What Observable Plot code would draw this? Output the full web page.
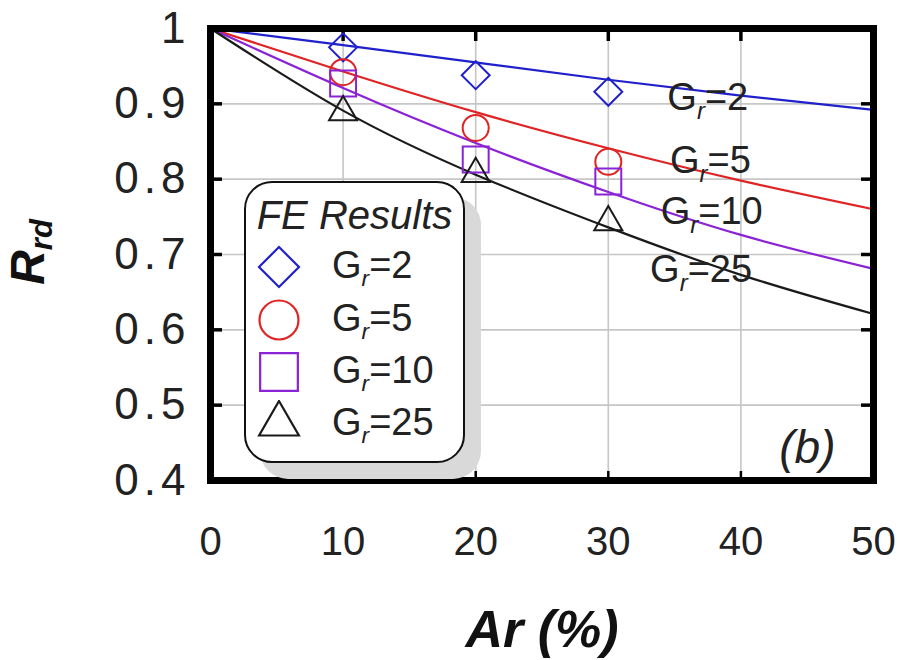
<!DOCTYPE html>
<html>
<head>
<meta charset="utf-8">
<script src="https://cdn.jsdelivr.net/npm/d3@7"></script>
<script src="https://cdn.jsdelivr.net/npm/@observablehq/plot@0.6"></script>
<style>
  html, body { margin: 0; padding: 0; background: #fff; }
  #chart { position: relative; width: 901px; height: 660px; font-family: "Liberation Sans", Arial, sans-serif; }
  #legend {
    position: absolute; left: 244px; top: 181px; width: 217px; height: 278px;
    border: 2px solid #111; border-radius: 28px; background: #fff;
    box-shadow: 16px 16px 0 #d9d9d9; box-sizing: content-box;
  }
  #legend .title { position: absolute; left: 0; width: 100%; top: 10px; text-align: center;
    font-style: italic; font-size: 40px; line-height: 44px; color: #222; }
  #legend .row { position: absolute; left: 0; width: 100%; height: 48px; }
  #legend .row svg { position: absolute; left: 9px; top: 2px; }
  #legend .row span { position: absolute; left: 86px; top: 0; font-size: 38px; line-height: 48px; color: #222; }
  #legend sub { font-size: 0.6em; font-style: italic; vertical-align: -0.35em; line-height: 0; }
</style>
</head>
<body>
<div id="chart"></div>
<script>
// ---- data ----
const arPct = [0, 10, 20, 30, 40, 50];               // A_r (%) at which curves are read
const grValues = [2, 5, 10, 25];                      // G_r series
const seriesColors = ["#2020cc", "#e02424", "#8a22d6", "#1a1a1a"];
const seriesSymbols = ["diamond2", "circle", "square2", "triangle2"];
const curveGr2  = [1, 0.978, 0.955, 0.932, 0.911, 0.892];
const curveGr5  = [1, 0.943, 0.889, 0.841, 0.798, 0.760];
const curveGr10 = [1, 0.921, 0.848, 0.783, 0.726, 0.681];
const curveGr25 = [1, 0.891, 0.806, 0.736, 0.673, 0.621];
const feAr   = [10, 20, 30];                          // FE results positions
const feGr2  = [0.975, 0.938, 0.916];
const feGr5  = [0.942, 0.868, 0.823];
const feGr10 = [0.927, 0.826, 0.797];
const feGr25 = [0.889, 0.807, 0.743];
const labelAr = [37.5, 37.7, 37.8, 37.0];             // curve label anchors
const labelRd = [0.908, 0.825, 0.756, 0.679];
const xTicks = [0, 10, 20, 30, 40, 50];
const yTicks = [0.4, 0.5, 0.6, 0.7, 0.8, 0.9, 1];

// ---- build tables ----
const curves = [curveGr2, curveGr5, curveGr10, curveGr25];
const fes = [feGr2, feGr5, feGr10, feGr25];
const curveRows = [];
grValues.forEach((g, i) => arPct.forEach((a, j) => curveRows.push({gr: g, i, ar: a, rd: curves[i][j]})));
const feRows = [];
grValues.forEach((g, i) => feAr.forEach((a, j) => feRows.push({gr: g, i, ar: a, rd: fes[i][j]})));
const labelRows = grValues.map((g, i) => ({gr: g, i, ar: labelAr[i], rd: labelRd[i]}));

const symbolSizes = {"diamond2": 12.6, "circle": 13, "square2": 16.5, "triangle2": 13.4};
const W = 901, H = 660, ML = 210, MR = 28, MT = 28, MB = 180;
const plotW = W - ML - MR, plotH = H - MT - MB;
const innerX = xTicks.slice(1, -1), innerY = yTicks.slice(1, -1);

const marks = [
  Plot.gridX(xTicks, {stroke: "#c6c6c6", strokeOpacity: 1, strokeWidth: 1.6}),
  Plot.gridY(yTicks, {stroke: "#c6c6c6", strokeOpacity: 1, strokeWidth: 1.6}),
  Plot.axisX(xTicks, {anchor: "bottom", tickSize: 0, tickPadding: 46, label: null, fontSize: 40, tickFormat: d => String(d)}),
  Plot.axisY(yTicks, {anchor: "left", tickSize: 0, tickPadding: 20, label: null, fontSize: 44, tickFormat: d => String(d)}),
  // inward tick marks on all four sides
  Plot.tickX(innerX, {x: d => d, stroke: "#000", strokeWidth: 3.5, insetBottom: plotH - 13}),
  Plot.tickX(innerX, {x: d => d, stroke: "#000", strokeWidth: 2.5, insetTop: plotH - 9}),
  Plot.tickY(innerY, {y: d => d, stroke: "#000", strokeWidth: 3.5, insetRight: plotW - 12}),
  Plot.tickY(innerY, {y: d => d, stroke: "#000", strokeWidth: 3.5, insetLeft: plotW - 12}),
  ...grValues.map((g, i) => Plot.line(curveRows.filter(d => d.i === i), {
    x: "ar", y: "rd", stroke: seriesColors[i], strokeWidth: 2.2, curve: "natural"
  })),
  ...grValues.map((g, i) => Plot.dot(feRows.filter(d => d.i === i), {
    x: "ar", y: "rd", stroke: seriesColors[i], strokeWidth: 2, fill: "none",
    symbol: seriesSymbols[i], r: symbolSizes[seriesSymbols[i]]
  })),
  Plot.text(labelRows, {x: "ar", y: "rd", text: d => "Gr=" + d.gr, fontSize: 38, fill: "#222",
    textAnchor: "middle"}),
  Plot.text(["(b)"], {frameAnchor: "bottom-right", text: d => d, dx: -38, dy: -18,
    fontSize: 46, fontStyle: "italic", fill: "#222"}),
  Plot.frame({stroke: "#000", strokeWidth: 7})
];

const svg = Plot.plot({
  width: W,
  height: H,
  marginLeft: ML,
  marginRight: MR,
  marginTop: MT,
  marginBottom: MB,
  x: {domain: [0, 50]},
  y: {domain: [0.4, 1]},
  style: {fontFamily: "'Liberation Sans', Arial, sans-serif", background: "#fff", color: "#222", overflow: "visible"},
  marks
});

const chart = document.getElementById("chart");
chart.appendChild(svg);

const sel = d3.select(svg);
// slightly wider spacing of the y tick labels, as in the reference
sel.selectAll("text").filter(function () { return /^(0\.\d|1)$/.test(this.textContent); })
  .attr("letter-spacing", 5);

// white boxes behind curve labels + subscript r
sel.selectAll("text").filter(function () { return /^Gr=\d+$/.test(this.textContent); }).each(function () {
  const t = d3.select(this);
  const txt = t.text();
  const rest = txt.slice(2);
  t.text(null);
  t.append("tspan").text("G");
  t.append("tspan").attr("font-size", 24).attr("font-style", "italic").attr("dy", 9).text("r");
  t.append("tspan").attr("dy", -9).text(rest);
  const bb = this.getBBox();
  const parent = this.parentNode;
  const rect = document.createElementNS("http://www.w3.org/2000/svg", "rect");
  rect.setAttribute("x", bb.x - 4);
  rect.setAttribute("y", bb.y + 5);
  rect.setAttribute("width", bb.width + 8);
  rect.setAttribute("height", bb.height - 10);
  rect.setAttribute("fill", "#fff");
  parent.insertBefore(rect, this);
});

// axis titles
sel.append("text")
  .attr("transform", "translate(44,252) rotate(-90)")
  .attr("text-anchor", "middle")
  .attr("font-size", 48).attr("font-weight", "bold").attr("font-style", "italic").attr("fill", "#111")
  .call(t => {
    t.append("tspan").text("R");
    t.append("tspan").attr("font-size", 31).attr("dy", 8).text("rd");
  });
sel.append("text")
  .attr("x", 542).attr("y", 647)
  .attr("text-anchor", "middle")
  .attr("font-size", 52).attr("font-weight", "bold").attr("font-style", "italic").attr("fill", "#111")
  .text("Ar (%)");

// legend (HTML overlay)
const legend = document.createElement("div");
legend.id = "legend";
legend.innerHTML = '<div class="title">FE Results</div>';
const rowTops = [58, 111, 163, 215];
const typeMap = {"diamond2": d3.symbolDiamond2, "circle": d3.symbolCircle, "square2": d3.symbolSquare2, "triangle2": d3.symbolTriangle2};
const legendR = {"diamond2": 18, "circle": 19.5, "square2": 24, "triangle2": 19};
grValues.forEach((g, i) => {
  const row = document.createElement("div");
  row.className = "row";
  row.style.top = rowTops[i] + "px";
  const s = d3.create("svg").attr("width", 48).attr("height", 48);
  const r = legendR[seriesSymbols[i]];
  s.append("path")
    .attr("transform", "translate(24,24)")
    .attr("d", d3.symbol(typeMap[seriesSymbols[i]], Math.PI * r * r)())
    .attr("fill", "none").attr("stroke", seriesColors[i]).attr("stroke-width", 2.2);
  row.appendChild(s.node());
  const span = document.createElement("span");
  span.innerHTML = 'G<sub>r</sub>=' + g;
  row.appendChild(span);
  legend.appendChild(row);
});
chart.appendChild(legend);
</script>
</body>
</html>
